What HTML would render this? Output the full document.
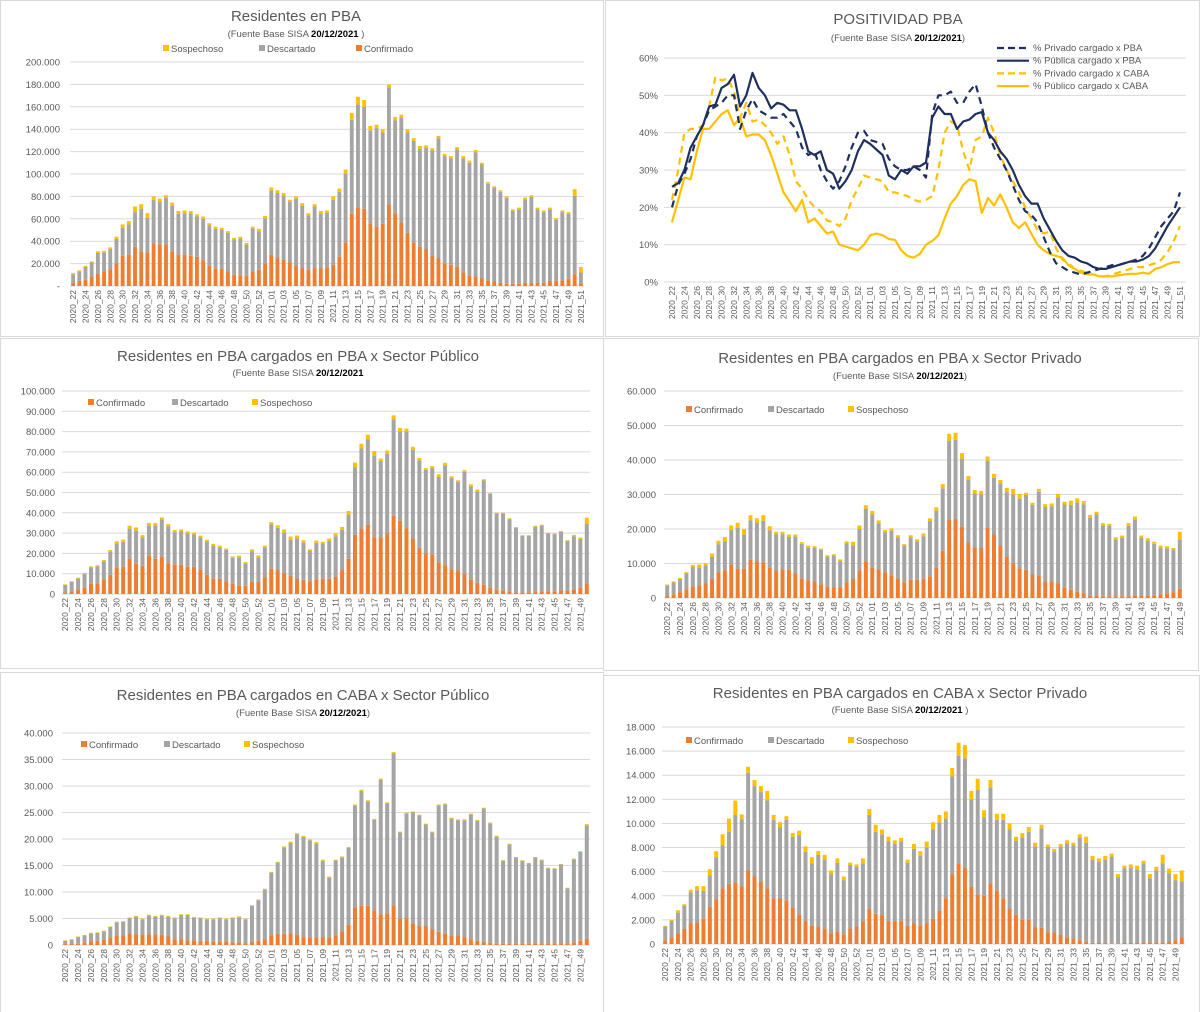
<!DOCTYPE html>
<html><head><meta charset="utf-8">
<style>
html,body{margin:0;padding:0;background:#fff;}
svg{display:block;font-family:"Liberation Sans",sans-serif;}
.tick{font-size:9.5px;fill:#595959;}
.xl{font-size:8.5px;fill:#595959;}
.title{font-size:15px;fill:#595959;}
.sub{font-size:9.5px;fill:#595959;}
.leg{font-size:9.5px;fill:#595959;}
</style></head>
<body>
<svg id="root" width="1200" height="1012" viewBox="0 0 1200 1012"></svg>
<script>
// ---------- categories ----------
const weeks = [];
for (let w = 22; w <= 53; w++) weeks.push('2020_' + w);
for (let w = 1; w <= 51; w++) weeks.push('2021_' + (w < 10 ? '0' + w : w));

// ---------- chart 1: Residentes en PBA (thousands) ----------
const c1Total = [11.5,14,18,22,31,31.5,34.5,44,55,58,71,73,65,80,78,81,74.5,67,67.5,67,64,62,56,53,52,49,43,44,38.5,53,51,62.5,88,85.5,83,77,80,74,65,73,67,67.5,80,87,104,154.5,169,166,143,144,140,180,151,153,140,132,125,125.5,123,134,118,116,124,116,112,121.5,110,92.7,89,85.5,80,68.5,70,79,81,70,67.5,70,60.5,67.5,66,86.5,17];
const c1Conf = [3,4,5.5,8,11,13,15,20,27,28,35,31,30,38,37,37,31,28,28,27,26,23,18.5,15.5,15.5,13,10,9.5,8.5,13,14.5,20,28,25.5,23.5,21,18.5,16,14.5,16,16,16.7,19,26,39,64.5,70,69,56,53,55.5,72.7,65,57,47.5,39,35,33,27.5,25,20,19,17,12,9.5,8,6.7,5,4,3,2,2,2,3,3,3,3,4,4,5,6.5,10.3,2.5];
const c1Sosp = [1,1,1,1,1.5,1.5,1.5,2,3,3,5,4,4,3,3,2.5,3,2.5,2.5,2,2,2,2,2,2,1.5,1.5,1.5,1.5,1.5,2,2,2.5,2.5,2,2,2,2,2,2,2,2,3,3,3.5,6,7,6,4,3,3,2.5,3,3,3,2.5,2.5,2,2,2,2,2,2,2,2,2,1.5,1.5,1.5,1.5,1.5,1.5,1.5,1.5,1.5,1.5,1.5,1.5,1.5,1.5,1.5,6,5];

// ---------- chart 2: Positividad (%) ----------
const pPrivPBA = [20,26,29,33,39,42,46,47,48,50,50,41,46,49,46,45,44,44,45,43,41,36,34,35,30,27,25,27,31,36,40,40.5,38,37.5,37,33,31,30,30,31,30,28,45,50,50,51,48,48,51,53,47,40,36,33,30,26,22,19,18,16,12,8,5,4,3,2.5,2,2.5,3,3.5,4,4.5,4.5,5,5.5,6,7,9,12,15,17,19,24];
const pPubPBA = [25.5,26.5,30,36,39,42,47,47.5,52,53,55.5,47,50,56,52,50,46.5,48,47.5,46,46,41,35,34,35,30,29,25,27,30,35,38,37,35.5,34,28.5,27.5,30,29,31,31,32,44,47,45,45,41,43,43.5,45,45.5,40,38,35,33,30,26,23,21,21,17,14,11,8.5,7,6.5,5.5,5,4,3.5,3.5,4,4.5,5,5.5,5.5,6,7,9,12,15,17.5,20];
const pPrivCABA = [22,30,40,41,41,42,47,55,54,54.5,51,44,48,43,43.5,42,40,37,39,34,27,25,22,20,19,16.5,16,15,17,22,25,28.5,28,27.5,27,24,24,23.5,23,22,21.5,22,23,30,40,43,42,35,30,38,39,44,40,34,30,27,24,20,17,14,13,13.5,9,6,5,3.5,3,2.5,2,1.5,1.5,2,2.5,3,3.5,4,4,4.5,5,6,8,11,15];
const pPubCABA = [16,22,28,27.5,35,41,41,43,45,46,42,44,39,39.5,39.5,38,34,29,24,21.5,19,22,16,17,15,13,13.5,10,9.5,9,8.5,10,12.5,13,12.5,11.5,11.3,8.5,7,6.5,7.5,10,11,12.5,17,21,23,26,27.5,27,18.5,22.5,20.5,23.5,20,16,14.5,16,13,10,8.5,7.5,7,6.5,4.5,3.5,2.5,2,2,1.5,1.5,1.5,1.8,2,2.2,2.2,2.5,2.2,3.5,4,4.8,5.3,5.3];
const pctTicks = [0,10,20,30,40,50,60];

// ---------- chart 3: PBA x Sector Público ----------
const c3Total = [4.8,6.3,8,10.3,13.6,14.2,16.7,21.7,26,26.8,33.6,32.8,29,35,35,37.7,34.4,31.5,31.8,30.8,30.3,28.8,26.7,24.7,23.8,22.4,18.5,18.9,15.7,22,19,23.8,35.4,33.8,31.8,28.3,28.8,26.5,22,26.3,25.7,27.3,29.8,33,40.9,64.7,74,78.5,70.4,66.7,70.7,88,81.8,81.5,72.5,67,62,63,59,64.6,58,56,61,54,51.5,56.5,49.7,40,40,37.3,33,29,29,33.6,34.1,30.1,29.8,31,26.5,29.1,27.8,37.6];
const c3Conf = [0.8,1.3,2.3,3.1,5,5.3,7.1,9.4,13.2,13.4,17.4,14.9,13.9,18.9,17.4,18.4,15.2,14.4,14.4,13.4,13.4,11.8,9.4,7.5,7.5,6.3,5,4.1,4,6,6,8.3,12.4,11.8,10.1,8.9,7.6,7,6.3,7.3,7.5,7.5,8.4,11.8,17.4,29.1,32,34.1,28,28,30,38.6,36.1,32.3,27.3,22.8,20,19.4,15.6,14.2,12.1,11.3,10,7,5.5,4.6,3.1,2.3,1.8,1.3,0.8,0.8,0.8,1.3,1.3,1.3,1.3,1.8,1.8,2.3,3.1,5.3];
const c3Sosp = [0.3,0.3,0.4,0.4,0.5,0.6,0.6,1,1,1.2,1.4,1.6,1.2,1.4,1.3,1,1,1,1,1,0.9,0.9,0.8,0.9,0.8,0.6,0.6,0.8,0.6,0.9,0.9,0.8,1,1.2,1.6,1.5,1.4,1.2,0.8,1.1,0.8,1.2,1.4,1.4,1.8,2.2,2.3,2.4,2.1,1.2,1.6,2,1.8,1.4,1.4,1.2,0.9,1,1.3,1.3,0.9,0.8,0.9,1,1,0.6,0.4,0.3,0.3,0.4,0.4,0.3,0.3,0.4,0.3,0.3,0.3,0.4,0.3,0.6,0.7,3];

// ---------- chart 4: PBA x Sector Privado ----------
const c4Total = [3.9,4.8,5.8,7.5,9.6,9.7,10.1,12.9,16.6,17.7,21,21.8,20,24,23.1,24,20.8,19.2,19.2,18.4,18.4,16.2,15.2,15,14.3,12.4,12.7,11.2,16.4,16.3,21,26.9,25.2,22.5,19.7,20.2,18.2,15.6,18.2,17,18.7,23.1,26.3,33,47.6,47.9,42,35.4,31.3,31,41,36,34.2,31.9,31.6,30.2,30.5,27.6,31.6,27.2,27.4,30.2,27.9,28.2,28.9,28.1,24.1,25,21.7,21.5,17.6,18.1,21.7,23.6,18.1,17.3,16.3,15.2,15,14.5,19.2];
const c4Conf = [0.7,1.1,1.7,2.5,3.4,3.7,4.2,5.5,7.5,8,9.7,8.5,8.5,11.1,10.6,10.3,8.7,8,8.3,8.2,7.1,5.6,5.1,4.8,4,3.2,2.9,2.9,4.6,5.5,8,10.6,8.9,8.3,7.5,6.6,5.5,4.6,5.3,5.3,5.6,6.3,8.9,13.7,22.6,22.9,20.8,16.1,14.6,14.5,20.5,18.4,15.2,12.1,10,8.6,8.2,6.8,6.6,4.8,4.8,4.2,3.1,2.4,1.8,1.3,0.8,0.8,0.5,0.5,0.5,0.5,0.5,0.7,0.7,0.7,0.7,1,1.2,1.7,2.7];
const c4Sosp = [0.2,0.3,0.3,0.3,0.6,0.8,0.6,1,1,1.2,1.2,1.5,1.6,1.5,1.2,1.6,1.2,0.7,0.7,0.7,0.6,0.5,0.6,0.5,0.4,0.4,0.4,0.5,0.6,1,1,1,1,0.8,0.6,0.6,0.6,0.4,0.6,0.6,0.8,0.8,1,1.2,2,2,1.6,1.2,1,1,1.2,1.2,1,1.2,1.6,1.4,0.6,0.6,0.8,0.8,0.8,1,0.8,1.2,1.2,1,0.8,0.8,0.6,0.6,0.6,0.6,0.8,0.8,0.6,0.6,0.6,0.6,0.6,0.6,2.2];

// ---------- chart 5: CABA x Sector Público ----------
const c5Total = [0.9,1.1,1.6,1.9,2.3,2.4,2.7,3.5,4.4,4.5,5.2,5.5,5,5.7,5.5,5.7,5.5,5.2,5.8,5.8,5.3,5.2,5,5,5.2,5,5.2,5.4,5,7.5,8.6,10.6,13.8,15.7,18.6,19.5,21.1,20.6,19.9,19.4,16.1,12.9,16.1,16.7,18.5,26.5,29.3,27.3,23.8,31.4,26.9,36.4,21.4,25,25.2,24.6,22.9,21.4,26.5,26.7,24,23.7,23.7,24.8,23.6,25.9,23.1,20.6,16,19.1,16.6,16,15.5,16.6,16.1,14.6,14.5,15.3,10.8,16.3,17.7,22.8];
const c5Conf = [0.2,0.2,0.25,0.45,0.7,0.8,1,1.4,1.8,1.8,2.2,2,1.9,2,2,1.9,1.6,1.1,1.1,0.9,0.9,0.8,0.8,0.7,0.7,0.7,0.5,0.5,0.3,0.6,0.8,1.1,1.8,2.1,2.1,2.2,1.9,1.5,1.4,1.4,1.5,1.4,1.8,2.6,3.8,7.1,7.4,7.4,6.5,5.8,6,7.5,5,5,4.1,3.6,3.6,3,2.5,2.2,1.7,1.8,1.5,1.1,0.8,0.6,0.45,0.25,0.25,0.25,0.25,0.25,0.25,0.3,0.3,0.3,0.3,0.3,0.3,0.5,0.8,1.2];
const c5Sosp = [0.1,0.1,0.1,0.1,0.1,0.1,0.1,0.1,0.1,0.1,0.15,0.15,0.15,0.15,0.15,0.15,0.15,0.15,0.15,0.15,0.15,0.15,0.15,0.15,0.15,0.15,0.15,0.2,0.15,0.15,0.15,0.15,0.15,0.15,0.15,0.2,0.2,0.2,0.2,0.2,0.2,0.15,0.15,0.15,0.15,0.2,0.2,0.2,0.2,0.2,0.2,0.2,0.15,0.15,0.15,0.15,0.15,0.15,0.15,0.15,0.15,0.15,0.15,0.15,0.15,0.15,0.15,0.15,0.1,0.15,0.1,0.1,0.1,0.1,0.1,0.1,0.1,0.1,0.1,0.15,0.15,0.2];

// ---------- chart 6: CABA x Sector Privado ----------
const c6Total = [1.5,2,2.8,3.3,4.5,4.8,4.8,6.2,7.7,9.1,10.4,11.9,10.75,14.7,13.6,13.1,12.7,10.7,10.1,10.6,9.2,9.4,8.1,7.2,7.7,7.4,6.1,7.1,5.6,6.75,6.6,7.1,11.2,9.9,9.5,8.9,8.6,8.8,7,8.3,7.7,8.5,10.1,10.7,11,14.6,16.7,16.5,12.7,13.7,11.1,13.6,10.8,10.8,10,8.9,9.2,9.7,8.4,9.9,8.25,7.9,8.3,8.6,8.4,9.1,8.9,7.3,7.1,7.3,7.5,5.8,6.5,6.6,6.5,6.9,5.8,6.4,7.4,6.25,5.8,6.1];
const c6Conf = [0.3,0.55,0.9,1.25,1.7,1.8,2.1,3.1,3.7,4.6,5,5.1,4.8,6.1,5.6,5.2,4.6,3.8,3.8,3.6,3,2.4,1.9,1.55,1.45,1.3,0.9,1,0.8,1.3,1.45,1.9,2.9,2.5,2.4,1.9,1.9,1.9,1.5,1.7,1.55,1.7,2.1,2.8,3.8,5.8,6.7,6.3,4.75,4.1,4,5.05,4.4,3.8,2.9,2.4,2,2,1.4,1.35,0.97,0.97,0.75,0.55,0.45,0.3,0.2,0.1,0.08,0.08,0.03,0.03,0.08,0.08,0.08,0.14,0.14,0.14,0.14,0.2,0.3,0.55];
const c6Sosp = [0.05,0.1,0.2,0.1,0.2,0.35,0.4,0.5,0.5,0.9,1.1,1.2,0.4,0.5,0.5,0.5,0.8,0.4,0.4,0.3,0.3,0.4,0.45,0.5,0.3,0.4,0.3,0.35,0.3,0.2,0.2,0.4,0.5,0.6,0.4,0.4,0.3,0.3,0.25,0.4,0.4,0.5,0.6,0.6,0.6,0.7,1.1,1.1,0.7,0.9,0.6,0.6,0.5,0.5,0.5,0.35,0.35,0.4,0.3,0.3,0.2,0.2,0.2,0.25,0.2,0.3,0.5,0.3,0.3,0.3,0.25,0.25,0.2,0.3,0.3,0.2,0.35,0.3,0.7,0.4,0.5,0.9];

// ---------- drawing helpers ----------
const NS = 'http://www.w3.org/2000/svg';
const root = document.getElementById('root');
function el(tag, attrs, parent, text) {
  const e = document.createElementNS(NS, tag);
  for (const k in attrs) e.setAttribute(k, attrs[k]);
  if (text !== undefined) e.textContent = text;
  (parent || root).appendChild(e);
  return e;
}
const ORANGE = '#ED7D31', GRAY = '#A5A5A5', YELLOW = '#FFC000', NAVY = '#1F2F5E';
function fmt(v) { return v === 0 ? '-' : v.toLocaleString('de-DE'); }

function panel(x, y, w, h, name) {
  const g = el('g', {});
  
  
  const r = el('rect', {x: x + 0.5, y: y + 0.5, width: w, height: h, fill: '#fff', stroke: '#D9D9D9'}, g);
  
  
  return g;
}
function titles(g, cx, ty, title, sy, tail) {
  const t = el('text', {x: cx, y: ty, 'text-anchor': 'middle', class: 'title'}, g, title);
  
  
  const s = el('text', {x: cx, y: sy, 'text-anchor': 'middle', class: 'sub'}, g);
  
  
  el('tspan', {}, s, '(Fuente  Base SISA   ');
  el('tspan', {'font-weight': 'bold', fill: '#000'}, s, '20/12/2021');
  el('tspan', {}, s, tail);
}
function legendItem(g, x, y, color, label) {
  const gg = el('g', {}, g);
  
  
  el('rect', {x: x, y: y - 7, width: 6, height: 6, fill: color}, gg);
  el('text', {x: x + 8, y: y, class: 'leg'}, gg, label);
}
function xLabels(g, xOf, n, yTop) {
  for (let i = 0; i < n; i += 2) {
    const t = el('text', {x: 0, y: 0, class: 'xl', 'text-anchor': 'end',
      transform: 'translate(' + (xOf(i) + 3) + ',' + yTop + ') rotate(-90)'}, g, weeks[i]);
    
    
  }
}

function barChart(g, cfg, total, conf, sosp) {
  const n = total.length;
  const slot = (cfg.x1 - cfg.x0) / n;
  const xOf = i => cfg.x0 + slot * (i + 0.5);
  const yOf = v => cfg.y0 - (v / cfg.max) * (cfg.y0 - cfg.yTop);
  const bw = slot * 0.62;
  for (let t = 0; t <= cfg.max + 1e-9; t += cfg.step) {
    const y = yOf(t);
    const gl = el('line', {x1: cfg.x0, x2: cfg.x1, y1: y, y2: y, stroke: '#D9D9D9', 'stroke-width': 1}, g);
    
    
    const lb = el('text', {x: cfg.lx, y: y + 3.5, 'text-anchor': 'end', class: 'tick'}, g, cfg.zeroDash && t === 0 ? '-' : (t === 0 ? '0' : fmt(t * 1000)));
    
    
  }
  for (let i = 0; i < n; i++) {
    const c = conf[i], s = sosp[i] || 0, d = Math.max(0, total[i] - c - s);
    const bx = xOf(i) - bw / 2;
    const r1 = el('rect', {x: bx, y: yOf(c), width: bw, height: yOf(0) - yOf(c), fill: ORANGE}, g);
    
    
    const r2 = el('rect', {x: bx, y: yOf(c + d), width: bw, height: yOf(c) - yOf(c + d), fill: GRAY}, g);
    
    
    const r3 = el('rect', {x: bx, y: yOf(c + d + s), width: bw, height: yOf(c + d) - yOf(c + d + s), fill: YELLOW}, g);
    
    
  }
  xLabels(g, xOf, n, cfg.y0 + 4);
}

// ---------- Chart 1 ----------
let g = panel(0, 0, 603, 336, 'chart-residentes-pba');
titles(g, 296, 21, 'Residentes en PBA', 37, ' )');
legendItem(g, 163, 52, YELLOW, 'Sospechoso');
legendItem(g, 259, 52, GRAY, 'Descartado');
legendItem(g, 356, 52, ORANGE, 'Confirmado');
barChart(g, {x0: 70, x1: 584, y0: 286, yTop: 62, max: 200, step: 20, lx: 60, zeroDash: true}, c1Total, c1Conf, c1Sosp);

// ---------- Chart 2 ----------
g = panel(605, 0, 594, 336, 'chart-positividad-pba');
{
  const t = el('text', {x: 898, y: 24, 'text-anchor': 'middle', class: 'title', 'font-size': '14px'}, g, 'POSITIVIDAD PBA');
  
  
  const s = el('text', {x: 898, y: 41, 'text-anchor': 'middle', class: 'sub'}, g);
  
  
  el('tspan', {}, s, '(Fuente Base SISA  ');
  el('tspan', {'font-weight': 'bold', fill: '#000'}, s, '20/12/2021');
  el('tspan', {}, s, ')');
  const x0 = 672, x1 = 1180, y0 = 282, yTop = 58;
  const n = pPubPBA.length;
  const xOf = i => x0 + (x1 - x0) * i / (n - 1);
  const yOf = v => y0 - v / 60 * (y0 - yTop);
  pctTicks.forEach(v => {
    const gl = el('line', {x1: 664, x2: 1186, y1: yOf(v), y2: yOf(v), stroke: '#D9D9D9'}, g);
    
    
    const lb = el('text', {x: 658, y: yOf(v) + 3.5, 'text-anchor': 'end', class: 'tick'}, g, v + '%');
    
    
  });
  const series = [
    {d: pPubCABA, c: YELLOW, dash: null, name: 'line-publico-caba'},
    {d: pPrivCABA, c: YELLOW, dash: '7,5', name: 'line-privado-caba'},
    {d: pPrivPBA, c: NAVY, dash: '7,5', name: 'line-privado-pba'},
    {d: pPubPBA, c: NAVY, dash: null, name: 'line-publica-pba'}
  ];
  series.forEach(s2 => {
    const pts = s2.d.map((v, i) => xOf(i).toFixed(1) + ',' + yOf(v).toFixed(1)).join(' ');
    const p = el('polyline', {points: pts, fill: 'none', stroke: s2.c, 'stroke-width': 2.2, 'stroke-linejoin': 'round'}, g);
    if (s2.dash) p.setAttribute('stroke-dasharray', s2.dash);
    
    
  });
  xLabels(g, xOf, n, 286);
  const leg = [['% Privado cargado x PBA', NAVY, '7,4'], ['% Pública cargado x PBA', NAVY, null], ['% Privado cargado x CABA', YELLOW, '7,4'], ['% Público cargado x CABA', YELLOW, null]];
  leg.forEach((L, k) => {
    const gg = el('g', {}, g);
    
    
    const y = 51 + k * 12.7;
    const ln = el('line', {x1: 997, x2: 1029, y1: y - 3, y2: y - 3, stroke: L[1], 'stroke-width': 2.2}, gg);
    if (L[2]) ln.setAttribute('stroke-dasharray', L[2]);
    el('text', {x: 1033, y: y, class: 'leg', 'font-size': '9px'}, gg, L[0]);
  });
}

// ---------- Chart 3 ----------
g = panel(0, 338, 603, 330, 'chart-pba-sector-publico');
titles(g, 298, 361, 'Residentes en  PBA cargados en PBA x Sector Público', 376, '');
legendItem(g, 88, 406, ORANGE, 'Confirmado');
legendItem(g, 172, 406, GRAY, 'Descartado');
legendItem(g, 252, 406, YELLOW, 'Sospechoso');
barChart(g, {x0: 62, x1: 590, y0: 594, yTop: 391, max: 100, step: 10, lx: 55}, c3Total, c3Conf, c3Sosp);

// ---------- Chart 4 ----------
g = panel(603, 338, 595, 332, 'chart-pba-sector-privado');
titles(g, 900, 363, 'Residentes en  PBA cargados en PBA x Sector Privado', 379, ')');
legendItem(g, 686, 413, ORANGE, 'Confirmado');
legendItem(g, 768, 413, GRAY, 'Descartado');
legendItem(g, 848, 413, YELLOW, 'Sospechoso');
barChart(g, {x0: 664, x1: 1183, y0: 598, yTop: 391, max: 60, step: 10, lx: 656}, c4Total, c4Conf, c4Sosp);

// ---------- Chart 5 ----------
g = panel(0, 672, 603, 340, 'chart-caba-sector-publico');
titles(g, 303, 700, 'Residentes en  PBA cargados en CABA x Sector Público', 716, ')');
legendItem(g, 81, 748, ORANGE, 'Confirmado');
legendItem(g, 164, 748, GRAY, 'Descartado');
legendItem(g, 244, 748, YELLOW, 'Sospechoso');
barChart(g, {x0: 62, x1: 590, y0: 945, yTop: 733, max: 40, step: 5, lx: 53}, c5Total, c5Conf, c5Sosp);

// ---------- Chart 6 ----------
g = panel(603, 675, 596, 337, 'chart-caba-sector-privado');
titles(g, 900, 698, 'Residentes en  PBA cargados en CABA x Sector Privado', 713, ' )');
legendItem(g, 686, 744, ORANGE, 'Confirmado');
legendItem(g, 768, 744, GRAY, 'Descartado');
legendItem(g, 848, 744, YELLOW, 'Sospechoso');
barChart(g, {x0: 662, x1: 1185, y0: 944, yTop: 727, max: 18, step: 2, lx: 655}, c6Total, c6Conf, c6Sosp);
</script>
</body></html>
